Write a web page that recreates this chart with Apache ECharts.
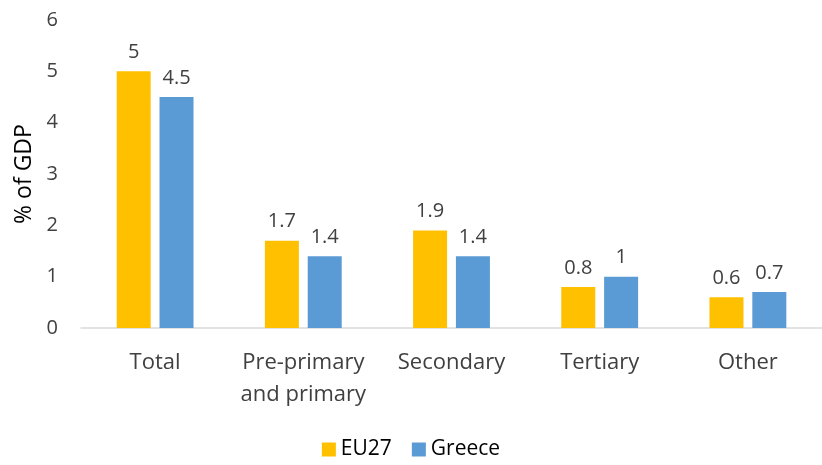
<!DOCTYPE html>
<html>
<head>
<meta charset="utf-8">
<script src="https://cdn.jsdelivr.net/npm/echarts@6/dist/echarts.min.js"></script>
<style>
  html, body { margin: 0; padding: 0; background: #fff; }
  #chart { width: 822px; height: 465px; }
</style>
</head>
<body>
<div id="chart"></div>
<script>
// data
var categories = ['Total', 'Pre-primary\nand primary', 'Secondary', 'Tertiary', 'Other'];
var eu27 = [5, 1.7, 1.9, 0.8, 0.6];
var greece = [4.5, 1.4, 1.4, 1, 0.7];

var font = '"Open Sans", sans-serif';
var textColor = '#404040';

var chart = echarts.init(document.getElementById('chart'), null, { renderer: 'canvas' });

var labelStyle = {
  show: true,
  position: 'top',
  distance: 9,
  color: textColor,
  fontSize: 20,
  fontFamily: font
};

chart.setOption({
  animation: false,
  textStyle: { fontFamily: font },
  grid: { left: 81, top: 20, width: 750, height: 308 },
  legend: {
    bottom: 0,
    left: 'center',
    itemWidth: 14,
    itemHeight: 14,
    itemGap: 20,
    icon: 'rect',
    textStyle: { fontSize: 21, color: '#000', fontFamily: font },
    data: ['EU27', 'Greece']
  },
  xAxis: {
    type: 'category',
    data: categories,
    axisLine: { lineStyle: { color: '#d9d9d9', width: 1.5 } },
    axisTick: { show: false },
    axisLabel: { interval: 0, color: textColor, fontSize: 22, lineHeight: 32, margin: 19, fontFamily: font }
  },
  yAxis: {
    type: 'value',
    min: 0,
    max: 6,
    interval: 1,
    name: '% of GDP',
    nameLocation: 'middle',
    nameGap: 42,
    nameTextStyle: { fontSize: 23, color: '#000', fontFamily: font },
    axisLine: { show: false },
    axisTick: { show: false },
    splitLine: { show: false },
    axisLabel: { color: textColor, fontSize: 20, margin: 23, fontFamily: font }
  },
  series: [
    {
      name: 'EU27',
      type: 'bar',
      data: eu27,
      barWidth: 34,
      barGap: '26%',
      itemStyle: { color: '#ffc000' },
      label: labelStyle
    },
    {
      name: 'Greece',
      type: 'bar',
      data: greece,
      barWidth: 34,
      itemStyle: { color: '#5b9bd5' },
      label: labelStyle
    }
  ]
});
</script>
</body>
</html>
